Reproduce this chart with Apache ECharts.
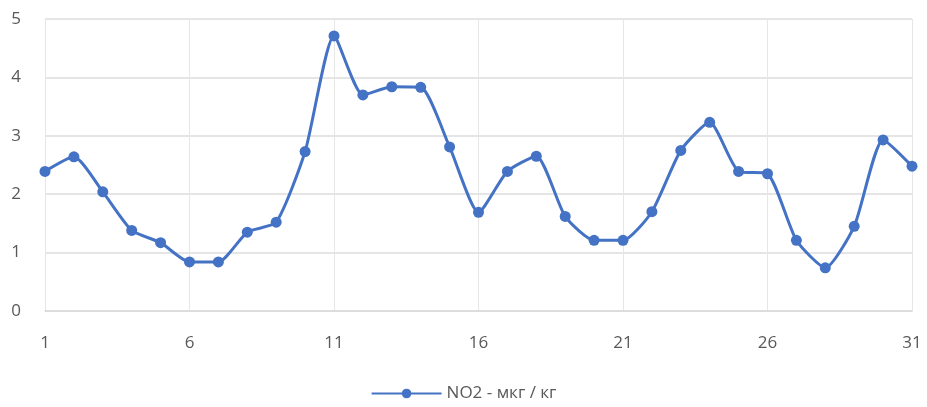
<!DOCTYPE html>
<html><head><meta charset="utf-8">
<script src="https://cdn.jsdelivr.net/npm/echarts@6/dist/echarts.min.js"></script>
<style>html,body{margin:0;padding:0;background:#fff}#c{width:927px;height:407px}</style>
</head><body><div id="c"></div>
<script>
const categories = Array.from({length:31},(_, i)=>String(i+1));
const seriesName = 'NO2 - мкг / кг';
const no2 = [2.39,2.64,2.04,1.38,1.17,0.84,0.84,1.35,1.52,2.73,4.71,3.70,3.84,3.83,2.81,1.69,2.39,2.65,1.62,1.21,1.21,1.70,2.75,3.23,2.39,2.35,1.21,0.74,1.45,2.93,2.48];
const yTicks = [0,1,2,3,4,5];

const chart = echarts.init(document.getElementById('c'));
chart.setOption({
  animation:false,
  textStyle:{fontFamily:'Open Sans'},
  grid:{left:45,right:15,top:19,bottom:96,containLabel:false},
  legend:{bottom:0,left:'center',data:[seriesName],itemWidth:70,itemHeight:12,itemGap:4,
    textStyle:{color:'#595959',fontSize:17,fontFamily:'Open Sans'}},
  xAxis:{type:'category',data:categories,boundaryGap:false,
    axisLine:{lineStyle:{color:'#d9d9d9',width:1.5}},
    axisTick:{show:false},
    axisLabel:{interval:4,color:'#595959',fontSize:17,margin:24},
    splitLine:{show:true,interval:4,lineStyle:{color:'#e6e6e6',width:1}}},
  yAxis:{type:'value',min:yTicks[0],max:yTicks[yTicks.length-1],interval:1,
    axisLine:{show:false},axisTick:{show:false},
    axisLabel:{color:'#595959',fontSize:17,margin:24},
    splitLine:{lineStyle:{color:'#dcdcdc',width:1.5}}},
  series:[{name:seriesName,type:'line',data:no2,smooth:0.2,
    symbol:'circle',symbolSize:11,
    lineStyle:{color:'#4472c4',width:3},
    itemStyle:{color:'#4472c4'}}]
});
</script></body></html>
